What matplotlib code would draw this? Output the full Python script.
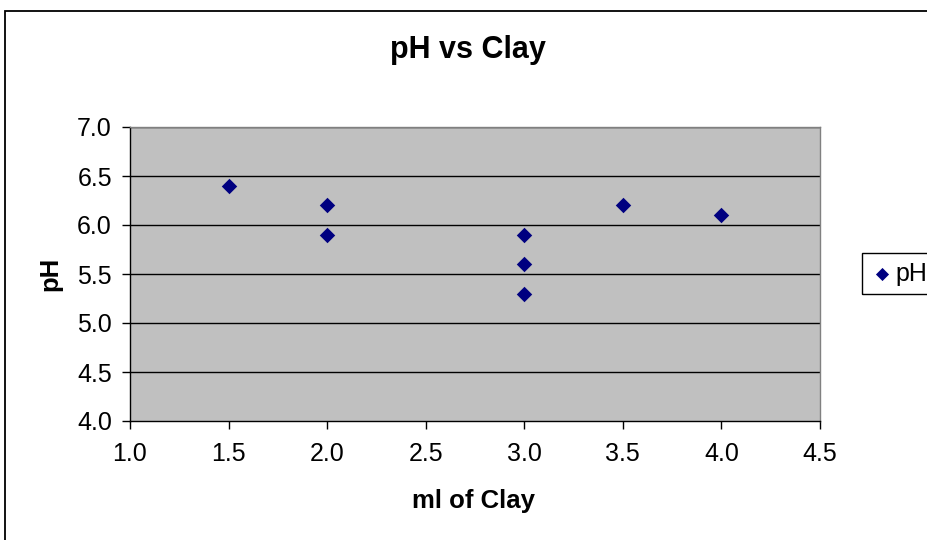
import matplotlib
matplotlib.use("Agg")
import matplotlib.pyplot as plt
from matplotlib.patches import Rectangle

plt.rcParams["font.family"] = ["Liberation Sans", "DejaVu Sans"]

# data
clay_ml = [1.5, 2.0, 2.0, 3.0, 3.0, 3.0, 3.5, 4.0]
ph = [6.4, 6.2, 5.9, 5.9, 5.6, 5.3, 6.2, 6.1]
x_ticks = [1.0, 1.5, 2.0, 2.5, 3.0, 3.5, 4.0, 4.5]
y_ticks = [4.0, 4.5, 5.0, 5.5, 6.0, 6.5, 7.0]

W, H = 928, 540
fig = plt.figure(figsize=(W / 100, H / 100), dpi=100)
fig.patch.set_facecolor("white")

# outer chart border (runs off the right and bottom edge)
fig.patches.append(Rectangle((5.5 / W, -0.05), 1.2, 1 - 10.5 / H + 0.05,
                             transform=fig.transFigure, fill=False,
                             edgecolor="black", linewidth=1.3, clip_on=False))
# legend box, also cut off at the right edge
fig.patches.append(Rectangle((862 / W, 1 - 294 / H), 0.2, 41 / H,
                             transform=fig.transFigure, fill=False,
                             edgecolor="black", linewidth=1.0, clip_on=False))

ax = fig.add_axes([130 / W, 1 - 421 / H, (820 - 130) / W, (421 - 127) / H])
ax.set_facecolor("#c0c0c0")

for y in y_ticks[1:]:
    ax.axhline(y, color="black", linewidth=1.0, zorder=1)

ax.scatter(clay_ml, ph, marker="D", s=62, color="#000080", zorder=3,
           label="pH", linewidths=0)

ax.set_xlim(1.0, 4.5)
ax.set_ylim(4.0, 7.0)
ax.set_xticks(x_ticks)
ax.set_yticks(y_ticks)
ax.set_xticklabels([f"{v:.1f}" for v in x_ticks])
ax.set_yticklabels([f"{v:.1f}" for v in y_ticks])
ax.tick_params(direction="out", length=6, width=1, labelsize=18,
               color="black")
ax.tick_params(axis="x", pad=9)
ax.tick_params(axis="y", pad=7)

ax.spines["left"].set_color("black")
ax.spines["bottom"].set_color("black")
ax.spines["top"].set_color("#808080")
ax.spines["right"].set_color("#808080")
for s in ax.spines.values():
    s.set_linewidth(1.0)

fig.text(468 / W, 1 - 50 / H, "pH vs Clay", fontsize=22, fontweight="bold",
         ha="center", va="center")
fig.text(474 / W, 1 - 501 / H, "ml of Clay", fontsize=18.5, fontweight="bold",
         ha="center", va="center")
fig.text(50 / W, 1 - 274 / H, "pH", fontsize=18.5, fontweight="bold",
         ha="center", va="center", rotation=90)

leg = ax.legend(loc="center left", bbox_to_anchor=(863 / W, 1 - 274 / H),
                bbox_transform=fig.transFigure, fontsize=18, frameon=False,
                borderpad=0.25, borderaxespad=0,
                handletextpad=0.05, handlelength=1.0, markerscale=0.85)

fig.savefig("out.png", dpi=100)
